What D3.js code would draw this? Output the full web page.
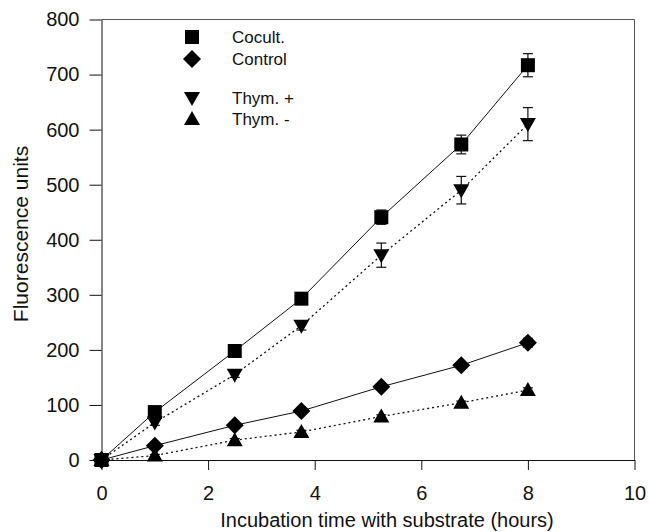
<!DOCTYPE html>
<html>
<head>
<meta charset="utf-8">
<script src="https://cdn.jsdelivr.net/npm/d3@7"></script>
<style>
  body { margin: 0; background: #fff; }
  text { font-family: "Liberation Sans", Arial, sans-serif; fill: #111; }
</style>
</head>
<body>
<div id="chart"></div>
<script>
// data
let hours = [0, 1, 2.5, 3.75, 5.25, 6.75, 8];
let cocult = [0, 87, 198, 293, 441, 573, 717];
let cocultErr = [0, 5, 4, 5, 13, 17, 21];
let control = [0, 26, 63, 89, 133, 172, 213];
let controlErr = [0, 3, 3, 3, 4, 5, 8];
let thymPlus = [0, 68, 155, 244, 372, 490, 610];
let thymPlusErr = [0, 5, 5, 8, 22, 25, 30];
let thymMinus = [0, 8, 36, 51, 79, 104, 127];
let thymMinusErr = [0, 2, 3, 3, 3, 3, 4];
let xTicks = [0, 2, 4, 6, 8, 10];
let yTicks = [0, 100, 200, 300, 400, 500, 600, 700, 800];

let width = 649, height = 532;
let margin = {left: 101.5, right: 14.5, top: 19.5, bottom: 72};

let svg = d3.select("#chart").append("svg")
    .attr("width", width)
    .attr("height", height);

let x = d3.scaleLinear().domain([0, 10]).range([margin.left, width - margin.right]);
let y = d3.scaleLinear().domain([0, 800]).range([height - margin.bottom, margin.top]);

// frame on top and right
svg.append("path")
    .attr("d", "M" + x(0) + "," + y(800) + "H" + x(10) + "V" + y(0))
    .attr("fill", "none")
    .attr("stroke", "#555")
    .attr("stroke-width", 1);

let xAxis = svg.append("g")
    .attr("transform", "translate(0," + y(0) + ")")
    .call(d3.axisBottom(x).tickValues(xTicks).tickSize(10).tickPadding(16).tickSizeOuter(0));
let yAxis = svg.append("g")
    .attr("transform", "translate(" + x(0) + ",0)")
    .call(d3.axisLeft(y).tickValues(yTicks).tickSize(12).tickPadding(10).tickSizeOuter(0));

[xAxis, yAxis].forEach(function(a) {
    a.selectAll("text").style("font-size", "20px").attr("fill", "#111");
    a.selectAll("line, path").attr("stroke", "#111");
});

svg.append("text")
    .attr("x", 387)
    .attr("y", 527)
    .attr("text-anchor", "middle")
    .style("font-size", "20px")
    .text("Incubation time with substrate (hours)");

svg.append("text")
    .attr("transform", "translate(28,234) rotate(-90)")
    .attr("text-anchor", "middle")
    .style("font-size", "21px")
    .text("Fluorescence units");

let series = [
    {name: "Cocult.", vals: cocult, err: cocultErr, shape: "square", dash: null},
    {name: "Thym. +", vals: thymPlus, err: thymPlusErr, shape: "down", dash: "2,3"},
    {name: "Control", vals: control, err: controlErr, shape: "diamond", dash: null},
    {name: "Thym. -", vals: thymMinus, err: thymMinusErr, shape: "up", dash: "2,3"}
];

function shapePath(shape) {
    if (shape === "square") return "M-7,-7H7V7H-7Z";
    if (shape === "diamond") return "M0,-9L9,0L0,9L-9,0Z";
    if (shape === "down") return "M-8,-6H8L0,8Z";
    return "M-8,6H8L0,-8Z";
}

let line = d3.line().x(d => x(d[0])).y(d => y(d[1]));

series.forEach(function(s) {
    let pts = hours.map((h, i) => [h, s.vals[i], s.err[i]]);

    svg.append("path")
        .attr("d", line(pts))
        .attr("fill", "none")
        .attr("stroke", "#111")
        .attr("stroke-width", s.dash ? 1.3 : 1)
        .attr("stroke-dasharray", s.dash);

    let eb = svg.append("g").attr("stroke", "#111").attr("stroke-width", 1.2);
    pts.filter(d => d[2] > 0).forEach(function(d) {
        eb.append("line").attr("x1", x(d[0])).attr("x2", x(d[0]))
            .attr("y1", y(d[1] - d[2])).attr("y2", y(d[1] + d[2]));
        eb.append("line").attr("x1", x(d[0]) - 5).attr("x2", x(d[0]) + 5)
            .attr("y1", y(d[1] + d[2])).attr("y2", y(d[1] + d[2]));
        eb.append("line").attr("x1", x(d[0]) - 5).attr("x2", x(d[0]) + 5)
            .attr("y1", y(d[1] - d[2])).attr("y2", y(d[1] - d[2]));
    });

    svg.selectAll(null).data(pts).enter().append("path")
        .attr("d", shapePath(s.shape))
        .attr("transform", d => "translate(" + x(d[0]) + "," + y(d[1]) + ")")
        .attr("fill", "#000");
});

// legend
let legend = [
    {name: "Cocult.", shape: "square", ly: 37},
    {name: "Control", shape: "diamond", ly: 59},
    {name: "Thym. +", shape: "down", ly: 98},
    {name: "Thym. -", shape: "up", ly: 119}
];
legend.forEach(function(l) {
    svg.append("path")
        .attr("d", shapePath(l.shape))
        .attr("transform", "translate(192," + l.ly + ")")
        .attr("fill", "#000");
    svg.append("text")
        .attr("x", 232)
        .attr("y", l.ly + 6)
        .style("font-size", "17px")
        .text(l.name);
});
</script>
</body>
</html>
